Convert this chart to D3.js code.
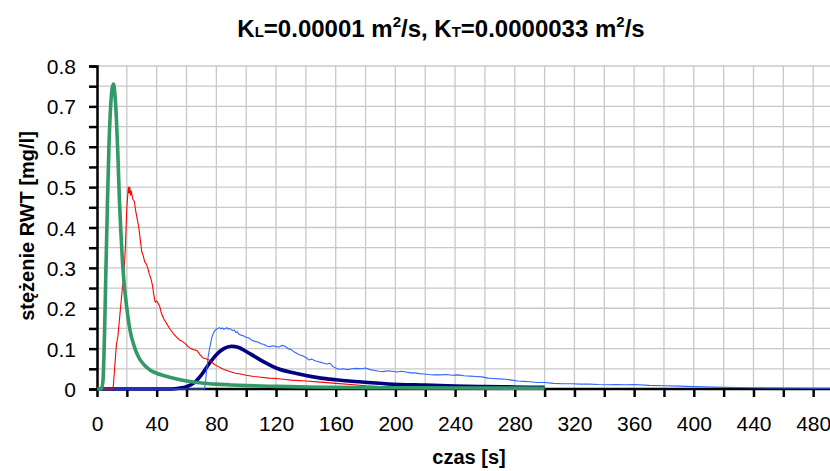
<!DOCTYPE html>
<html>
<head>
<meta charset="utf-8">
<script src="https://cdn.jsdelivr.net/npm/d3@7"></script>
<style>
  html, body { margin: 0; padding: 0; background: #fff; }
  svg { display: block; font-family: "Liberation Sans", Arial, sans-serif; }
</style>
</head>
<body>
<svg id="chart" width="830" height="471"></svg>
<script>
// Tick values
const xTicks = d3.range(0, 500, 20);          // every 20 s (labels every 40 s)
const yTicks = d3.range(0, 0.8001, 0.05);     // every 0.05 (labels every 0.1)

// Model curve 1 (green)
const greenT = [0, 3, 4, 5, 6, 7, 8, 9, 10, 11, 12, 13, 14, 15, 16, 17, 18, 20, 22, 25, 28, 32, 36, 40, 50, 60, 70, 80, 90, 100, 120, 140, 160, 180, 200, 240, 300];
const greenC = [0, 0, 0.02, 0.13, 0.30, 0.46, 0.60, 0.69, 0.74, 0.755, 0.73, 0.67, 0.58, 0.47, 0.39, 0.32, 0.27, 0.20, 0.148, 0.105, 0.078, 0.058, 0.046, 0.039, 0.028, 0.020, 0.015, 0.012, 0.010, 0.0085, 0.0065, 0.005, 0.004, 0.0035, 0.003, 0.0025, 0.002];

// Measured curve 1 (red)
const redT = [0, 10.5, 11, 12, 13, 14, 15, 16, 17, 18, 19, 20, 21, 21.5, 22, 22.5, 23, 24, 25, 26, 27, 28, 29, 30, 31, 32, 33, 34, 35, 36, 37, 38, 39, 40, 41, 42, 43, 44, 45, 47, 49, 51, 53, 55, 57, 59, 61, 63, 65, 67, 69, 71, 73, 75, 77, 79, 81, 84, 87, 90, 93, 96, 100, 105, 110, 115, 120, 125, 130, 140, 150, 160, 170, 180, 190, 200, 220, 240, 260, 280];
const redC = [0, 0, 0.01, 0.06, 0.11, 0.13, 0.17, 0.21, 0.25, 0.28, 0.35, 0.45, 0.50, 0.485, 0.50, 0.48, 0.49, 0.47, 0.465, 0.44, 0.42, 0.40, 0.37, 0.34, 0.33, 0.315, 0.31, 0.30, 0.285, 0.275, 0.26, 0.235, 0.215, 0.218, 0.212, 0.205, 0.19, 0.18, 0.172, 0.16, 0.148, 0.138, 0.13, 0.122, 0.118, 0.113, 0.105, 0.10, 0.097, 0.095, 0.085, 0.077, 0.075, 0.072, 0.066, 0.060, 0.056, 0.050, 0.046, 0.042, 0.039, 0.037, 0.034, 0.031, 0.029, 0.027, 0.026, 0.024, 0.022, 0.020, 0.017, 0.014, 0.011, 0.008, 0.006, 0.005, 0.003, 0.002, 0.002, 0.0015];

// Model curve 2 (navy)
const navyT = [0, 50, 55, 60, 65, 70, 75, 80, 85, 90, 95, 100, 105, 110, 115, 120, 133, 150, 160, 175, 195, 220, 240, 260, 280, 300];
const navyC = [0, 0, 0.002, 0.006, 0.015, 0.035, 0.062, 0.085, 0.100, 0.106, 0.103, 0.093, 0.082, 0.071, 0.061, 0.052, 0.039, 0.027, 0.023, 0.018, 0.0125, 0.0095, 0.0075, 0.006, 0.005, 0.004];

// Measured curve 2 (blue)
const blueT = [0, 72, 72.5, 73.5, 74.5, 75.7, 77, 78, 79, 80, 81, 82, 83, 84, 85, 86, 87, 88, 89, 90, 91, 92, 93, 94, 95, 96, 98, 100, 102, 104, 106, 108, 110, 112, 114, 116, 118, 120, 122, 124, 126, 128, 130, 132, 134, 136, 138, 140, 142, 144, 146, 148, 150, 152, 154, 156, 158, 160, 162, 165, 168, 171, 174, 177, 180, 183, 186, 189, 192, 195, 198, 201, 204, 207, 210, 213, 216, 219, 222, 226, 230, 234, 238, 242, 246, 250, 254, 258, 262, 266, 270, 274, 278, 282, 286, 290, 295, 300, 306, 312, 318, 324, 330, 336, 342, 348, 354, 360, 370, 380, 390, 400, 420, 440, 460, 480, 500];
const blueC = [0, 0, 0.01, 0.047, 0.08, 0.105, 0.128, 0.138, 0.145, 0.148, 0.150, 0.152, 0.149, 0.151, 0.148, 0.150, 0.152, 0.148, 0.150, 0.147, 0.145, 0.146, 0.140, 0.142, 0.136, 0.134, 0.132, 0.128, 0.126, 0.120, 0.118, 0.116, 0.112, 0.110, 0.106, 0.105, 0.107, 0.105, 0.104, 0.108, 0.106, 0.100, 0.098, 0.092, 0.088, 0.084, 0.082, 0.078, 0.072, 0.074, 0.070, 0.068, 0.066, 0.064, 0.062, 0.064, 0.056, 0.052, 0.049, 0.050, 0.048, 0.050, 0.051, 0.050, 0.052, 0.048, 0.046, 0.044, 0.043, 0.045, 0.044, 0.042, 0.044, 0.042, 0.040, 0.040, 0.038, 0.037, 0.036, 0.035, 0.035, 0.036, 0.034, 0.035, 0.033, 0.032, 0.031, 0.030, 0.027, 0.026, 0.025, 0.024, 0.022, 0.020, 0.019, 0.018, 0.016, 0.016, 0.014, 0.013, 0.013, 0.012, 0.012, 0.011, 0.0105, 0.011, 0.0105, 0.011, 0.009, 0.008, 0.007, 0.006, 0.004, 0.003, 0.0025, 0.002, 0.0015];

const svg = d3.select("#chart");
svg.append("rect").attr("width", 830).attr("height", 471).attr("fill", "#fff");

const x = d3.scaleLinear().domain([0, 500]).range([97, 843]);
const y = d3.scaleLinear().domain([0, 0.8]).range([389, 66]);

// Grid
const grid = svg.append("g").attr("stroke", "#c8c8c8").attr("stroke-width", 1.3);
grid.selectAll("line.v").data(xTicks.filter(d => d > 0)).join("line")
  .attr("x1", d => x(d)).attr("x2", d => x(d)).attr("y1", y(0.8)).attr("y2", y(0));
grid.selectAll("line.h").data(yTicks.filter(d => d > 0.001)).join("line")
  .attr("x1", x(0)).attr("x2", 830).attr("y1", d => y(d)).attr("y2", d => y(d));

// Axes
const xAxis = d3.axisBottom(x).tickValues(xTicks).tickSize(8)
  .tickFormat(d => (d % 40 === 0 ? d : ""));
const yAxis = d3.axisLeft(y).tickValues(yTicks).tickSize(8)
  .tickFormat(d => (Math.round(d * 100) % 10 === 0 ? d3.format(".1~f")(d) : ""));

const gx = svg.append("g").attr("transform", `translate(0,${y(0)})`).call(xAxis);
const gy = svg.append("g").attr("transform", `translate(${x(0)},0)`).call(yAxis);
[gx, gy].forEach(g => {
  g.attr("font-size", 21).attr("font-family", "Liberation Sans, Arial, sans-serif");
  g.select(".domain").attr("stroke", "#000").attr("stroke-width", 2.5);
  g.selectAll(".tick line").attr("stroke", "#000").attr("stroke-width", 2.5);
  g.selectAll(".tick text").attr("fill", "#000");
});
gx.select(".domain").attr("d", `M${x(0)},0H830`);
gx.selectAll(".tick text").attr("y", 42).attr("dy", 0);
gy.selectAll(".tick text").attr("x", -21).attr("dy", "0.36em");

// Series
const lineSmooth = d3.line().x(d => x(d[0])).y(d => y(d[1])).curve(d3.curveMonotoneX);
const lineRaw = d3.line().x(d => x(d[0])).y(d => y(d[1]));

const series = [
  { t: navyT, c: navyC, color: "#000080", w: 3.6, gen: lineSmooth },
  { t: blueT, c: blueC, color: "#3366ff", w: 1.1, gen: lineRaw },
  { t: redT, c: redC, color: "#ff0000", w: 1.1, gen: lineRaw },
  { t: greenT, c: greenC, color: "#339966", w: 3.6, gen: lineSmooth }
];
series.forEach(s => {
  svg.append("path")
    .datum(s.t.map((t, i) => [t, s.c[i]]))
    .attr("fill", "none")
    .attr("stroke", s.color)
    .attr("stroke-width", s.w)
    .attr("stroke-linejoin", "round")
    .attr("d", s.gen);
});

// Title
const title = svg.append("text").attr("x", 441).attr("y", 37)
  .attr("text-anchor", "middle").attr("font-size", 24).attr("font-weight", "bold");
title.append("tspan").text("K");
title.append("tspan").attr("font-size", 15).text("L");
title.append("tspan").text("=0.00001 m");
title.append("tspan").attr("font-size", 15).attr("dy", -10).text("2");
title.append("tspan").attr("dy", 10).text("/s, K");
title.append("tspan").attr("font-size", 15).text("T");
title.append("tspan").text("=0.0000033 m");
title.append("tspan").attr("font-size", 15).attr("dy", -10).text("2");
title.append("tspan").attr("dy", 10).text("/s");

// Axis titles
svg.append("text").attr("x", 469).attr("y", 464).attr("text-anchor", "middle")
  .attr("font-size", 20).attr("font-weight", "bold").text("czas [s]");
svg.append("text").attr("transform", "translate(34,226) rotate(-90)")
  .attr("text-anchor", "middle").attr("font-size", 20).attr("font-weight", "bold")
  .text("stężenie RWT [mg/l]");
</script>
</body>
</html>
